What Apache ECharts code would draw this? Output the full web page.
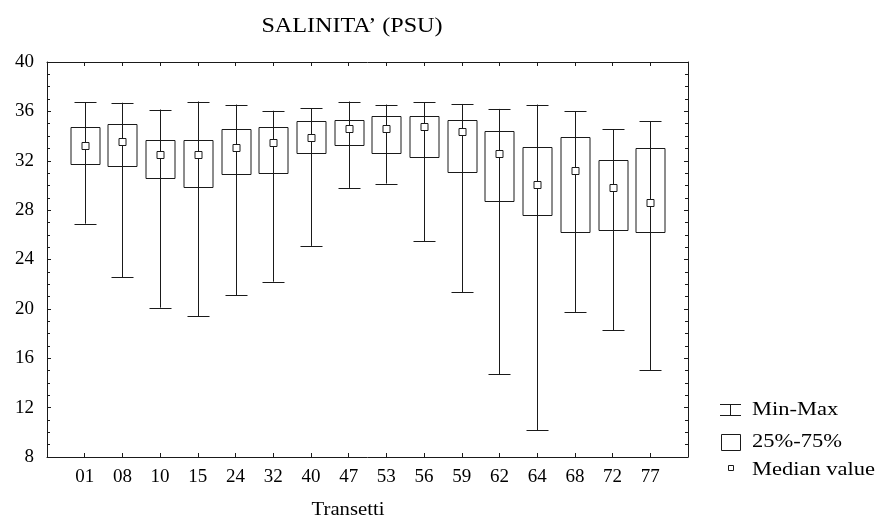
<!DOCTYPE html>
<html>
<head>
<meta charset="utf-8">
<script src="https://cdn.jsdelivr.net/npm/echarts@6/dist/echarts.min.js"></script>
<style>
  html, body { margin: 0; padding: 0; background: #fff; }
  #chart { width: 877px; height: 527px; }
</style>
</head>
<body>
<div id="chart"></div>
<script>
// Salinity (PSU) per transect: min, quartiles, median, max
const categories = ['01','08','10','15','24','32','40','47','53','56','59','62','64','68','72','77'];
const minVals    = [26.9, 22.55, 20.1, 19.4, 21.1, 22.2, 25.1, 29.8, 30.15, 25.5, 21.35, 14.7, 10.15, 19.75, 18.25, 15.05];
const q1Vals     = [31.7, 31.6, 30.6, 29.9, 30.9, 31.0, 32.6, 33.3, 32.6, 32.3, 31.05, 28.75, 27.6, 26.2, 26.35, 26.2];
const medianVals = [33.2, 33.6, 32.5, 32.5, 33.05, 33.5, 33.9, 34.6, 34.6, 34.75, 34.35, 32.6, 30.05, 31.2, 29.8, 28.65];
const q3Vals     = [34.75, 35.0, 33.65, 33.65, 34.6, 34.75, 35.2, 35.3, 35.6, 35.6, 35.3, 34.45, 33.15, 33.9, 32.05, 33.0];
const maxVals    = [36.75, 36.7, 36.15, 36.8, 36.55, 36.05, 36.25, 36.8, 36.55, 36.75, 36.6, 36.2, 36.55, 36.0, 34.55, 35.2];
const yTicks = { min: 8, max: 40, step: 4 };

// one empty slot on each side so categories sit on tick positions
const axisCats = [''].concat(categories, ['']);
const boxData = categories.map((c, i) => [i + 1, minVals[i], q1Vals[i], medianVals[i], q3Vals[i], maxVals[i]]);

const FONT = 'Liberation Serif';
const INK = '#1a1a1a';

function renderBox(params, api) {
  const idx = api.value(0);
  const slot = api.size([1, 0])[0];
  const pMin = api.coord([idx, api.value(1)]);
  const pQ1 = api.coord([idx, api.value(2)]);
  const pMed = api.coord([idx, api.value(3)]);
  const pQ3 = api.coord([idx, api.value(4)]);
  const pMax = api.coord([idx, api.value(5)]);
  const x = Math.round(pMin[0]) + 0.5;
  const boxW = Math.round(slot * 0.76);
  const capW = Math.round(slot * 0.58);
  const medS = 7;
  const line = { stroke: INK, lineWidth: 1, fill: null };
  return {
    type: 'group',
    children: [
      { type: 'line', shape: { x1: x, y1: pMax[1], x2: x, y2: pMin[1] }, style: line },
      { type: 'line', shape: { x1: x - capW / 2, y1: Math.round(pMax[1]) + 0.5, x2: x + capW / 2, y2: Math.round(pMax[1]) + 0.5 }, style: line },
      { type: 'line', shape: { x1: x - capW / 2, y1: Math.round(pMin[1]) + 0.5, x2: x + capW / 2, y2: Math.round(pMin[1]) + 0.5 }, style: line },
      { type: 'rect', shape: { x: x - boxW / 2, y: Math.round(pQ3[1]) + 0.5, width: boxW, height: Math.round(pQ1[1]) - Math.round(pQ3[1]) }, style: line },
      { type: 'rect', shape: { x: x - medS / 2, y: Math.round(pMed[1] - medS / 2) + 0.5, width: medS, height: medS }, style: { stroke: INK, lineWidth: 1, fill: '#fff' } }
    ]
  };
}

const chart = echarts.init(document.getElementById('chart'), null, { renderer: 'canvas' });

const axisLine = { show: true, lineStyle: { color: INK, width: 1 } };
const legendFont = '18px "Liberation Serif"';

chart.setOption({
  animation: false,
  backgroundColor: '#fff',
  grid: { left: 47, right: 189, top: 62, bottom: 70 },
  xAxis: [
    {
      type: 'category', data: axisCats, boundaryGap: false, position: 'bottom',
      axisLine: axisLine,
      axisTick: { show: true, inside: true, length: 4, interval: 0, lineStyle: { color: INK } },
      axisLabel: { interval: 0, margin: 11, fontFamily: FONT, fontSize: 19, color: '#000' },
      splitLine: { show: false }
    },
    {
      type: 'category', data: axisCats, boundaryGap: false, position: 'top',
      axisLine: axisLine,
      axisTick: { show: true, inside: true, length: 4, interval: 0, lineStyle: { color: INK } },
      axisLabel: { show: false }, splitLine: { show: false }
    }
  ],
  yAxis: [
    {
      type: 'value', min: yTicks.min, max: yTicks.max, interval: yTicks.step, position: 'left',
      axisLine: axisLine,
      axisTick: { show: true, inside: true, length: 4, lineStyle: { color: INK } },
      minorTick: { show: true, splitNumber: 4, length: 3, lineStyle: { color: INK } },
      axisLabel: { margin: 13, fontFamily: FONT, fontSize: 19, color: '#000' },
      splitLine: { show: false }
    },
    {
      type: 'value', min: yTicks.min, max: yTicks.max, interval: yTicks.step, position: 'right',
      axisLine: axisLine,
      axisTick: { show: true, inside: true, length: 4, lineStyle: { color: INK } },
      minorTick: { show: true, splitNumber: 4, length: 3, lineStyle: { color: INK } },
      axisLabel: { show: false }, splitLine: { show: false }
    }
  ],
  series: [
    {
      type: 'custom', name: 'Salinita', xAxisIndex: 0, yAxisIndex: 0,
      renderItem: renderBox,
      encode: { x: 0, y: [1, 2, 3, 4, 5] },
      data: boxData
    }
  ],
  graphic: [
    // chart title
    { type: 'text', x: 352, y: 26, scaleX: 1.15,
      style: { text: 'SALINITA’ (PSU)', font: '21px "Liberation Serif"', fill: '#000', textAlign: 'center', textVerticalAlign: 'middle' } },
    // x axis title
    { type: 'text', x: 348, y: 510, scaleX: 1.15,
      style: { text: 'Transetti', font: legendFont, fill: '#000', textAlign: 'center', textVerticalAlign: 'middle' } },
    // legend: whisker symbol
    { type: 'line', shape: { x1: 730.5, y1: 404.5, x2: 730.5, y2: 415.5 }, style: { stroke: INK, lineWidth: 1 } },
    { type: 'line', shape: { x1: 720, y1: 404.5, x2: 741, y2: 404.5 }, style: { stroke: INK, lineWidth: 1 } },
    { type: 'line', shape: { x1: 720, y1: 415.5, x2: 741, y2: 415.5 }, style: { stroke: INK, lineWidth: 1 } },
    { type: 'text', x: 752, y: 410, scaleX: 1.25,
      style: { text: 'Min-Max', font: legendFont, fill: '#000', textVerticalAlign: 'middle' } },
    // legend: quartile box
    { type: 'rect', shape: { x: 721.5, y: 434.5, width: 19, height: 16 }, style: { stroke: INK, lineWidth: 1, fill: null } },
    { type: 'text', x: 752, y: 442, scaleX: 1.25,
      style: { text: '25%-75%', font: legendFont, fill: '#000', textVerticalAlign: 'middle' } },
    // legend: median marker
    { type: 'rect', shape: { x: 728.5, y: 465.5, width: 5, height: 5 }, style: { stroke: INK, lineWidth: 1, fill: '#fff' } },
    { type: 'text', x: 752, y: 470, scaleX: 1.25,
      style: { text: 'Median value', font: legendFont, fill: '#000', textVerticalAlign: 'middle' } }
  ]
});
</script>
</body>
</html>
